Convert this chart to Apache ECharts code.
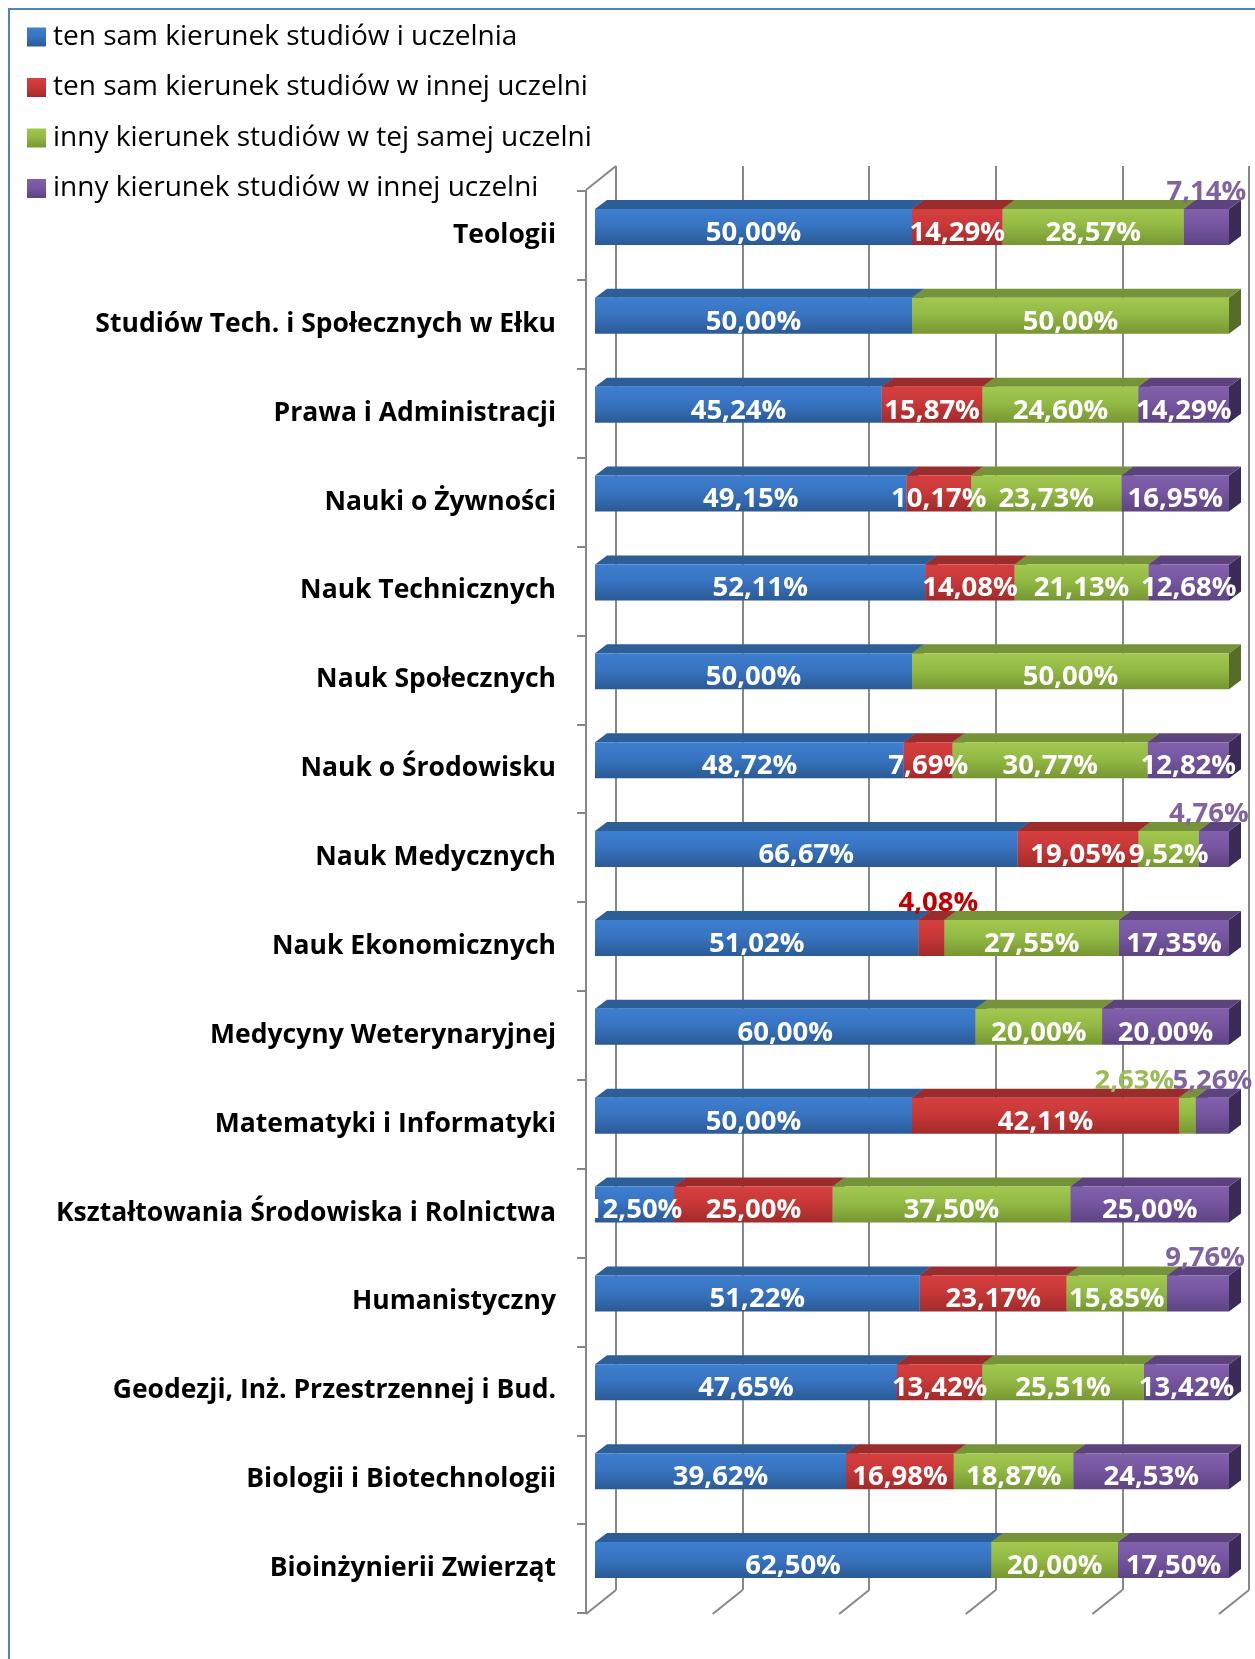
<!DOCTYPE html>
<html>
<head>
<meta charset="utf-8">
<script src="https://cdn.jsdelivr.net/npm/echarts@6/dist/echarts.min.js"></script>
<style>
  html, body { margin: 0; padding: 0; background: #fff; }
  #chart { width: 1255px; height: 1659px; }
</style>
</head>
<body>
<div id="chart"></div>
<script>
// wydziały (od góry do dołu)
const categories = [
  'Teologii',
  'Studiów Tech. i Społecznych w Ełku',
  'Prawa i Administracji',
  'Nauki o Żywności',
  'Nauk Technicznych',
  'Nauk Społecznych',
  'Nauk o Środowisku',
  'Nauk Medycznych',
  'Nauk Ekonomicznych',
  'Medycyny Weterynaryjnej',
  'Matematyki i Informatyki',
  'Kształtowania Środowiska i Rolnictwa',
  'Humanistyczny',
  'Geodezji, Inż. Przestrzennej i Bud.',
  'Biologii i Biotechnologii',
  'Bioinżynierii Zwierząt'
]

const seriesNames = [
  'ten sam kierunek studiów i uczelnia',
  'ten sam kierunek studiów w innej uczelni',
  'inny kierunek studiów w tej samej uczelni',
  'inny kierunek studiów w innej uczelni'
]

// wartości w %
const sameFieldSameUni = [50.00, 50.00, 45.24, 49.15, 52.11, 50.00, 48.72, 66.67, 51.02, 60.00, 50.00, 12.50, 51.22, 47.65, 39.62, 62.50]
const sameFieldOtherUni = [14.29, 0, 15.87, 10.17, 14.08, 0, 7.69, 19.05, 4.08, 0, 42.11, 25.00, 23.17, 13.42, 16.98, 0]
const otherFieldSameUni = [28.57, 50.00, 24.60, 23.73, 21.13, 50.00, 30.77, 9.52, 27.55, 20.00, 2.63, 37.50, 15.85, 25.51, 18.87, 20.00]
const otherFieldOtherUni = [7.14, 0, 14.29, 16.95, 12.68, 0, 12.82, 4.76, 17.35, 20.00, 5.26, 25.00, 9.76, 13.42, 24.53, 17.50]

const values = [sameFieldSameUni, sameFieldOtherUni, otherFieldSameUni, otherFieldOtherUni]

// linie siatki na tylnej ścianie
const gridTicks = [0, 20, 40, 60, 80, 100]

// etykiety nad słupkiem: 'kategoria|seria' -> przesunięcie w poziomie
const labelsAbove = {
  '0|3': 0,
  '7|3': -5,
  '8|1': 7,
  '10|2': -53,
  '10|3': 0,
  '12|3': 7
}

const colors = [
  { hi: '#3d7fd0', mid: '#3874c2', lo: '#2b5a95', lid: '#2d5e98', side: '#1f3f6a', text: '#4f81bd' },
  { hi: '#d63f3f', mid: '#c83838', lo: '#a22a2a', lid: '#9a2c2c', side: '#6b1d1d', text: '#c00000' },
  { hi: '#a2c850', mid: '#93ba44', lo: '#779633', lid: '#76933a', side: '#566d29', text: '#9bbb59' },
  { hi: '#8261ac', mid: '#7656a0', lo: '#5d4482', lid: '#5d437e', side: '#3d2b57', text: '#8064a2' }
]

const FONT = '"Open Sans", Lato, sans-serif'
const BAR_H = 36
const DX = 12
const DY = 9

function frontFill(c) {
  return new echarts.graphic.LinearGradient(0, 0, 0, 1, [
    { offset: 0, color: c.hi },
    { offset: 0.45, color: c.mid },
    { offset: 1, color: c.lo }
  ])
}

// dane segmentów: [kategoria, początek, wartość, seria]
function segments(s) {
  const out = []
  categories.forEach((_, i) => {
    let start = 0
    for (let k = 0; k < s; k++) start += values[k][i]
    if (values[s][i] > 0) out.push([i, start, values[s][i], s])
  })
  return out
}

function renderBar(params, api) {
  const cat = api.value(0)
  const start = api.value(1)
  const val = api.value(2)
  const c = colors[api.value(3)]
  const p0 = api.coord([start, cat])
  const p1 = api.coord([start + val, cat])
  const x0 = p0[0]
  const x1 = p1[0]
  const yT = p0[1] - BAR_H / 2
  const yB = p0[1] + BAR_H / 2
  return {
    type: 'group',
    children: [
      { type: 'polygon', shape: { points: [[x1, yT], [x1, yB], [x1 + DX, yB - DY], [x1 + DX, yT - DY]] }, style: { fill: c.side } },
      { type: 'polygon', shape: { points: [[x0, yT], [x1, yT], [x1 + DX, yT - DY], [x0 + DX, yT - DY]] }, style: { fill: c.lid } },
      { type: 'rect', shape: { x: x0, y: yT, width: x1 - x0, height: BAR_H }, style: { fill: frontFill(c) } }
    ]
  }
}

function renderLabel(params, api) {
  const cat = api.value(0)
  const start = api.value(1)
  const val = api.value(2)
  const s = api.value(3)
  const p = api.coord([start + val / 2, cat])
  const key = cat + '|' + s
  const above = key in labelsAbove
  return {
    type: 'text',
    style: {
      text: val.toFixed(2).replace('.', ',') + '%',
      x: above ? p[0] + labelsAbove[key] : p[0],
      y: above ? p[1] - 35 : p[1] + 6,
      fill: above ? colors[s].text : '#fff',
      fontFamily: FONT,
      fontWeight: 'bold',
      fontSize: 27.5,
      align: 'center',
      verticalAlign: 'middle'
    }
  }
}

function renderFloor(params, api) {
  const p = api.coord([api.value(0), api.value(1)])
  return {
    type: 'line',
    shape: { x1: p[0], y1: p[1], x2: p[0] - 30, y2: p[1] + 24 },
    style: { stroke: '#878787', lineWidth: 2 }
  }
}

const floorData = gridTicks.map(v => [v, 0]).concat([[0, 1]])

const labelData = []
values.forEach((_, s) => labelData.push(...segments(s)))

const chart = echarts.init(document.getElementById('chart'))

chart.setOption({
  backgroundColor: '#fff',
  animation: false,
  graphic: [
    { type: 'rect', shape: { x: 9, y: 9, width: 1400, height: 1800 }, style: { fill: 'none', stroke: '#4f81bd', lineWidth: 2 }, silent: true }
  ],
  legend: {
    data: seriesNames,
    orient: 'vertical',
    left: 22,
    top: 17,
    itemWidth: 19,
    itemHeight: 19,
    itemGap: 20.5,
    icon: 'rect',
    selectedMode: false,
    textStyle: { fontFamily: FONT, fontSize: 28, color: '#000', lineHeight: 30, padding: [0, 0, 0, 2] }
  },
  grid: [
    { left: 595, top: 182.5, width: 634, height: 1422 },  // słupki
    { left: 616, top: 166, width: 633, height: 1424 },    // tylna ściana
    { left: 586, top: 191, width: 1, height: 1422 }       // oś kategorii
  ],
  xAxis: [
    { gridIndex: 0, type: 'value', min: 0, max: 100, show: false },
    {
      gridIndex: 1, type: 'value', min: 0, max: 100, interval: 20,
      axisLine: { show: false }, axisTick: { show: false }, axisLabel: { show: false },
      splitLine: { show: true, lineStyle: { color: '#878787', width: 2 } }
    },
    { gridIndex: 2, type: 'value', show: false }
  ],
  yAxis: [
    { gridIndex: 0, type: 'category', data: categories, inverse: true, show: false },
    { gridIndex: 1, type: 'value', min: 0, max: 1, show: false },
    {
      gridIndex: 2, type: 'category', data: categories, inverse: true,
      axisLine: { show: true, lineStyle: { color: '#878787', width: 2 } },
      axisTick: { show: true, length: 9, lineStyle: { color: '#878787', width: 2 } },
      axisLabel: { margin: 30, fontFamily: FONT, fontWeight: 'bold', fontSize: 26.5, color: '#000', padding: [8, 0, 0, 0] },
      splitLine: { show: false }
    }
  ],
  series: [
    {
      name: 'floor', type: 'custom', xAxisIndex: 1, yAxisIndex: 1, silent: true,
      renderItem: renderFloor, data: floorData
    },
    ...seriesNames.map((name, s) => ({
      name: name,
      type: 'custom',
      xAxisIndex: 0,
      yAxisIndex: 0,
      renderItem: renderBar,
      itemStyle: { color: frontFill(colors[s]) },
      data: segments(s),
      z: 3
    })),
    {
      name: 'labels', type: 'custom', xAxisIndex: 0, yAxisIndex: 0, silent: true,
      renderItem: renderLabel, data: labelData, z: 5
    }
  ]
})
</script>
</body>
</html>
